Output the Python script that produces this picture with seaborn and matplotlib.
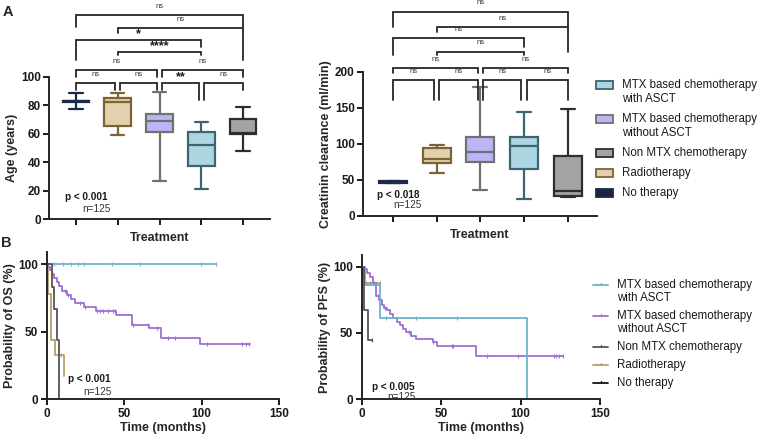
import numpy as np
import pandas as pd
import matplotlib
matplotlib.use("Agg")
import matplotlib.pyplot as plt
from matplotlib.patches import Rectangle
from matplotlib.lines import Line2D
import seaborn as sns

# ── treatment groups (box plot order, left to right) ─────────────
groups = ["No therapy", "Radiotherapy", "MTX without ASCT", "MTX with ASCT", "Non MTX"]
legend_order = [3, 2, 4, 1, 0]
legend_text = {
    "MTX with ASCT": ["MTX based chemotherapy", "with ASCT"],
    "MTX without ASCT": ["MTX based chemotherapy", "without ASCT"],
    "Non MTX": ["Non MTX chemotherapy"],
    "Radiotherapy": ["Radiotherapy"],
    "No therapy": ["No therapy"],
}
box_face = ["#1d2440", "#e2d1ae", "#b9b5f6", "#acd7e2", "#a3a3a3"]
box_edge = ["#1c2a4c", "#7a6436", "#717171", "#3b6570", "#2e2e2e"]
km_color = ["#111111", "#b49e6a", "#9f6ed6", "#6cb3cb", "#555555"]

# five-number summaries: whisker low, Q1, median, Q3, whisker high
age_none     = [77, 82.5, 82.7, 82.9, 88.5]
age_radio    = [59, 65.5, 82, 84.8, 88.4]
age_mtx      = [27, 61.4, 68.9, 73.6, 89]
age_mtx_asct = [21, 37.4, 52.1, 61, 68.5]
age_non_mtx  = [48, 59.8, 60.5, 70.6, 79]

crcl_none     = [46, 46, 47.5, 49, 49]
crcl_radio    = [60, 73, 78.5, 94.7, 98.4]
crcl_mtx      = [36, 74.4, 89, 110, 179]
crcl_mtx_asct = [23, 65, 97.5, 110, 143.7]
crcl_non_mtx  = [26, 27.7, 35, 83.6, 147.8]

# significance brackets: x0, x1, level, left leg end, right leg end, label
age_brackets = [
    (0, 0.94, 95.4, 90.7, 90.7, "ns"), (1.06, 1.94, 95.4, 90.7, 90.7, "ns"),
    (2.06, 2.94, 95.4, 90.7, 83.6, "**"), (3.06, 4, 95.4, 83.6, 90.7, "ns"),
    (0, 1.94, 104.7, 99.5, 99.5, "ns"), (2.06, 4, 104.7, 99.5, 99.5, "ns"),
    (1, 3, 117.5, 115, 115, "****"),
    (0, 3, 125.7, 111.7, 121, "*"),
    (1, 4, 134, 130.4, 111.7, "ns"),
    (0, 4, 143.3, 135, 135, "ns"),
]
crcl_brackets = [
    (0, 0.94, 188.4, 160.7, 160.7, "ns"), (1.06, 1.94, 188.4, 160.7, 160.7, "ns"),
    (2.06, 2.94, 188.4, 160.7, 160.7, "ns"), (3.06, 4, 188.4, 160.7, 160.7, "ns"),
    (0, 1.94, 204.7, 197.7, 197.7, "ns"), (2.06, 4, 204.7, 197.7, 197.7, "ns"),
    (1, 3, 227.7, 223, 223, "ns"),
    (0, 3, 246.2, 223, 234.6, "ns"),
    (1, 4, 262.3, 255.4, 227.7, "ns"),
    (0, 4, 283.1, 262, 262, "ns"),
]

# ── Kaplan-Meier curves (time in months, survival in %) ──────────
os_none_t, os_none_s, os_none_c = [0, 0.4], [100, 0], []
os_radio_t, os_radio_s, os_radio_c = [0, 0.6, 2.6, 5.4, 11.4], [100, 78, 44, 33, 17], [9.5]
os_mtx_t = [0, 1, 2, 3.5, 5, 6.5, 8, 10, 13, 16, 18, 24, 32, 45, 55, 66, 74, 99, 131]
os_mtx_s = [100, 98, 96, 93, 90, 87, 84, 80, 77, 74, 71, 68, 65.5, 62.5, 55, 52.5, 45.5, 41, 41]
os_mtx_c = [12, 14, 21.5, 24.7, 32.2, 34.4, 36.5, 39.8, 43, 44.1, 56, 65.6, 71, 78.5,
            82.8, 103.2, 125.8, 129, 130.7]
os_asct_t, os_asct_s = [0, 109], [100, 100]
os_asct_c = [5, 10.7, 15.7, 20, 24.3, 42, 60, 99.6, 109]
os_non_t, os_non_s, os_non_c = [0, 3.6, 4.9, 6.4, 8.2], [100, 83, 67, 44, 0], []

pfs_none_t, pfs_none_s, pfs_none_c = [0, 0.4], [100, 0], []
pfs_radio_t, pfs_radio_s, pfs_radio_c = [0, 1, 11.5], [100, 88, 88], [3, 5.5, 8, 11.5]
pfs_mtx_t = [0, 2, 3.5, 5, 7, 9, 11, 12.5, 14, 16, 18, 20, 22, 24, 26, 28, 31, 34, 45,
             47.5, 72, 126.5]
pfs_mtx_s = [100, 98, 95, 92, 88, 78, 75, 71, 69, 67, 64, 61, 58, 56, 53, 51, 48, 45.5,
             43, 40.5, 32.5, 32.5]
pfs_mtx_c = [10, 14.5, 30, 45, 56.6, 57.7, 78.7, 98.6, 121, 122.5, 124.5, 126.5]
pfs_asct_t, pfs_asct_s, pfs_asct_c = [0, 2.1, 11.5, 103.8], [100, 86, 61, 0], [15.3, 34, 60.2]
pfs_non_t, pfs_non_s, pfs_non_c = [0, 1.5, 4.2, 6.3], [100, 67, 44.7, 44.7], [6.3]

sns.set_style("ticks")
plt.rcParams["font.family"] = ["Liberation Sans", "DejaVu Sans"]
plt.rcParams["axes.linewidth"] = 1.4
plt.rcParams["xtick.major.width"] = 1.4
plt.rcParams["ytick.major.width"] = 1.4
plt.rcParams["xtick.major.size"] = 4
plt.rcParams["ytick.major.size"] = 4

fig = plt.figure(figsize=(7.6, 4.38), dpi=100)
W, H = 760.0, 438.0


def px_axes(left, top, right, bottom):
    return fig.add_axes([left / W, 1 - bottom / H, (right - left) / W, (bottom - top) / H])


def style_axes(ax):
    sns.despine(ax=ax)
    ax.tick_params(labelsize=8.5, pad=2, colors="#1a1a1a")
    for lab in ax.get_xticklabels() + ax.get_yticklabels():
        lab.set_fontweight("bold")


def box_panel(ax, vals, brackets, ylabel, ymax, yticks):
    for i, v in enumerate(vals):
        sns.boxplot(x=[groups[i]] * len(v), y=v, order=groups, color=box_face[i],
                    linecolor=box_edge[i], linewidth=1.6, width=0.64, whis=(0, 100),
                    saturation=1, ax=ax)
    ax.set_ylim(0, ymax)
    ax.set_yticks(yticks)
    ax.set_xticks(range(len(groups)))
    ax.set_xticklabels([])
    ax.set_xlabel("Treatment", fontsize=9, fontweight="bold", labelpad=3)
    ax.set_ylabel(ylabel, fontsize=9, fontweight="bold", labelpad=2)
    for x0, x1, y, yl, yr, lab in brackets:
        ax.plot([x0, x0, x1, x1], [yl, y, y, yr], color="#262626", lw=1.3,
                clip_on=False, solid_joinstyle="miter")
        if lab == "ns":
            ax.annotate(lab, ((x0 + x1) / 2, y), xytext=(0, 6.3), textcoords="offset points",
                        ha="center", va="center", fontsize=5.5, color="#333333",
                        annotation_clip=False)
        else:
            ax.annotate(lab, ((x0 + x1) / 2, y), xytext=(0, 4.2), textcoords="offset points",
                        ha="center", va="center", fontsize=9, fontweight="bold",
                        color="#1a1a1a", annotation_clip=False)
    style_axes(ax)


def km_panel(ax, curves, ylabel, ymax):
    for i, (t, s, c) in enumerate(curves):
        sns.lineplot(x=t, y=s, drawstyle="steps-post", color=km_color[i], lw=1.3,
                     estimator=None, sort=False, ax=ax, legend=False)
        if c:
            idx = np.searchsorted(t, c, side="right") - 1
            ax.plot(c, np.asarray(s)[idx], ls="none", marker="|", ms=3, mew=0.8,
                    color=km_color[i])
    ax.set_xlim(0, 150)
    ax.set_ylim(0, ymax)
    ax.set_xticks([0, 50, 100, 150])
    ax.set_yticks([0, 50, 100])
    ax.set_xlabel("Time (months)", fontsize=9, fontweight="bold", labelpad=2)
    ax.set_ylabel(ylabel, fontsize=9, fontweight="bold", labelpad=2)
    style_axes(ax)


def stat_text(ax, p, xp, yp, xn, yn):
    ax.text(xp, yp, p, transform=ax.transAxes, fontsize=7.2, fontweight="bold",
            va="center", color="#1a1a1a")
    ax.text(xn, yn, "n=125", transform=ax.transAxes, fontsize=7.2, va="center",
            color="#333333")


# ── A: box plots ─────────────────────────────────────────────────
ax_age = px_axes(49, 76.7, 270, 219.3)
box_panel(ax_age, [age_none, age_radio, age_mtx, age_mtx_asct, age_non_mtx],
          age_brackets, "Age (years)", 100, [0, 20, 40, 60, 80, 100])
ax_age.set_xlim(-0.65, 4.65)
stat_text(ax_age, "p < 0.001", 0.072, 0.155, 0.149, 0.072)

ax_cr = px_axes(363, 71.7, 596.7, 216)
box_panel(ax_cr, [crcl_none, crcl_radio, crcl_mtx, crcl_mtx_asct, crcl_non_mtx],
          crcl_brackets, "Creatinin clearance (ml/min)", 200, [0, 50, 100, 150, 200])
ax_cr.set_xlim(-0.68, 4.66)
stat_text(ax_cr, "p < 0.018", 0.06, 0.146, 0.128, 0.076)

# ── B: survival curves ───────────────────────────────────────────
ax_os = px_axes(46.7, 251.7, 279, 399.3)
km_panel(ax_os, [(os_none_t, os_none_s, os_none_c), (os_radio_t, os_radio_s, os_radio_c),
                 (os_mtx_t, os_mtx_s, os_mtx_c), (os_asct_t, os_asct_s, os_asct_c),
                 (os_non_t, os_non_s, os_non_c)], "Probability of OS (%)", 109.3)
stat_text(ax_os, "p < 0.001", 0.092, 0.137, 0.156, 0.049)

ax_pfs = px_axes(361.7, 255, 600, 399.3)
km_panel(ax_pfs, [(pfs_none_t, pfs_none_s, pfs_none_c), (pfs_radio_t, pfs_radio_s, pfs_radio_c),
                  (pfs_mtx_t, pfs_mtx_s, pfs_mtx_c), (pfs_asct_t, pfs_asct_s, pfs_asct_c),
                  (pfs_non_t, pfs_non_s, pfs_non_c)], "Probability of PFS (%)", 108.8)
stat_text(ax_pfs, "p < 0.005", 0.043, 0.088, 0.106, 0.016)

# ── legends (handle aligned with first text line) ────────────────
y = 85.0
for i in legend_order:
    fig.patches.append(Rectangle((596 / W, 1 - (y + 4.2) / H), 17 / W, 8.4 / H,
                                 facecolor=box_face[i], edgecolor=box_edge[i], lw=1.3,
                                 transform=fig.transFigure))
    for line in legend_text[groups[i]]:
        fig.text(622 / W, 1 - y / H, line, fontsize=8.3, va="center", color="#1a1a1a")
        y += 14
    y += 6

y = 285.0
for i in legend_order:
    fig.lines.append(Line2D([593 / W, 608 / W], [1 - y / H] * 2, color=km_color[i], lw=1.3,
                            transform=fig.transFigure))
    fig.lines.append(Line2D([600.5 / W] * 2, [1 - (y - 2.5) / H, 1 - y / H], color=km_color[i],
                            lw=0.9, transform=fig.transFigure))
    for line in legend_text[groups[i]]:
        fig.text(617 / W, 1 - y / H, line, fontsize=8.3, va="center", color="#1a1a1a")
        y += 13
    y += 5

fig.text(8 / W, 1 - 12 / H, "A", fontsize=10.5, fontweight="bold", ha="center", va="center")
fig.text(6 / W, 1 - 243 / H, "B", fontsize=10.5, fontweight="bold", ha="center", va="center")

fig.savefig("out.png", dpi=100)
